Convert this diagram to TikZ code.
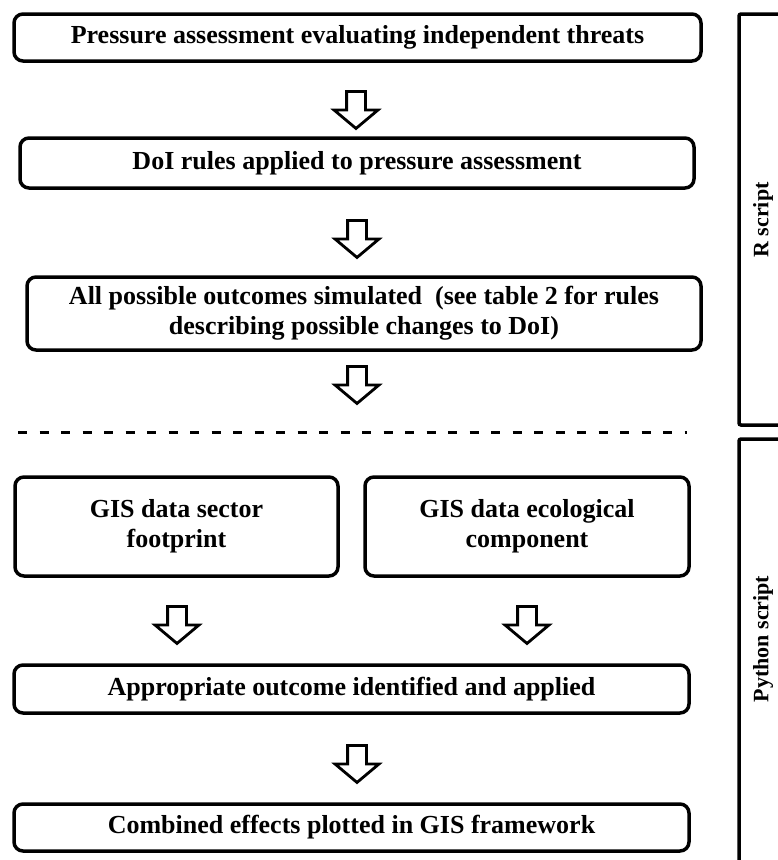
\documentclass[tikz,border=0pt]{standalone}
\usepackage{fontspec}
\setmainfont{Liberation Serif}
\usetikzlibrary{positioning,shapes.arrows}

\begin{document}
\begin{tikzpicture}[x=1pt, y=-1pt, every node/.style={align=center, font=\bfseries\fontsize{26}{30}\selectfont},
box/.style={draw, line width=3.5pt, rounded corners=9pt, inner sep=0pt},
down/.style={draw, line width=2.8pt, single arrow, rotate=-90, inner sep=8pt, single arrow head extend=12.5pt, single arrow tip angle=100, minimum height=37pt},
side/.style={draw, line width=3.5pt, rounded corners=2pt, inner sep=0pt, minimum width=48pt},
sidelbl/.style={rotate=90, font=\bfseries\fontsize{22}{26}\selectfont}]
\useasboundingbox (0,0) rectangle (778,860);
% R script part
\node[box, minimum width=687pt, minimum height=47pt] (press) at (357.5,37.5) {Pressure assessment evaluating independent threats};
\node[box, minimum width=674pt, minimum height=50pt] (doi) at (357,163) {DoI rules applied to pressure assessment};
\node[box, minimum width=674pt, minimum height=73pt] (sim) at (364,313.5) {All possible outcomes simulated~ (see table 2 for rules\\describing possible changes to DoI)};
\node[down] (a1) at (356,106) {};
\node[down] (a2) at (357,235) {};
\node[down] (a3) at (357,381) {};
\coordinate (sepl) at (18,432);
\coordinate (sepr) at (687,432);
\draw[line width=3pt, dash pattern=on 9pt off 12.5pt] (sepl) -- (sepr);
% Python script part
\node[box, minimum width=323pt, minimum height=99pt] (sector) at (176.5,526.5) {GIS data sector\\footprint};
\node[box, minimum width=324pt, minimum height=99pt] (eco) at (527,526.5) {GIS data ecological\\component};
\node[down] (a4) at (177,621) {};
\node[down] (a5) at (527,621) {};
\node[box, minimum width=675pt, minimum height=48pt] (apply) at (351.5,689) {Appropriate outcome identified and applied};
\node[down] (a6) at (357,760) {};
\node[box, minimum width=675pt, minimum height=47pt] (plot) at (351.5,827.5) {Combined effects plotted in GIS framework};
% side frames
\node[side, minimum height=411pt] (rframe) at (763,219.5) {};
\node[side, minimum height=460pt] (pyframe) at (763,669) {};
\node[sidelbl] (rlbl) at (763,220) {R script};
\node[sidelbl] (pylbl) at (763,639) {Python script};
\end{tikzpicture}
\end{document}
